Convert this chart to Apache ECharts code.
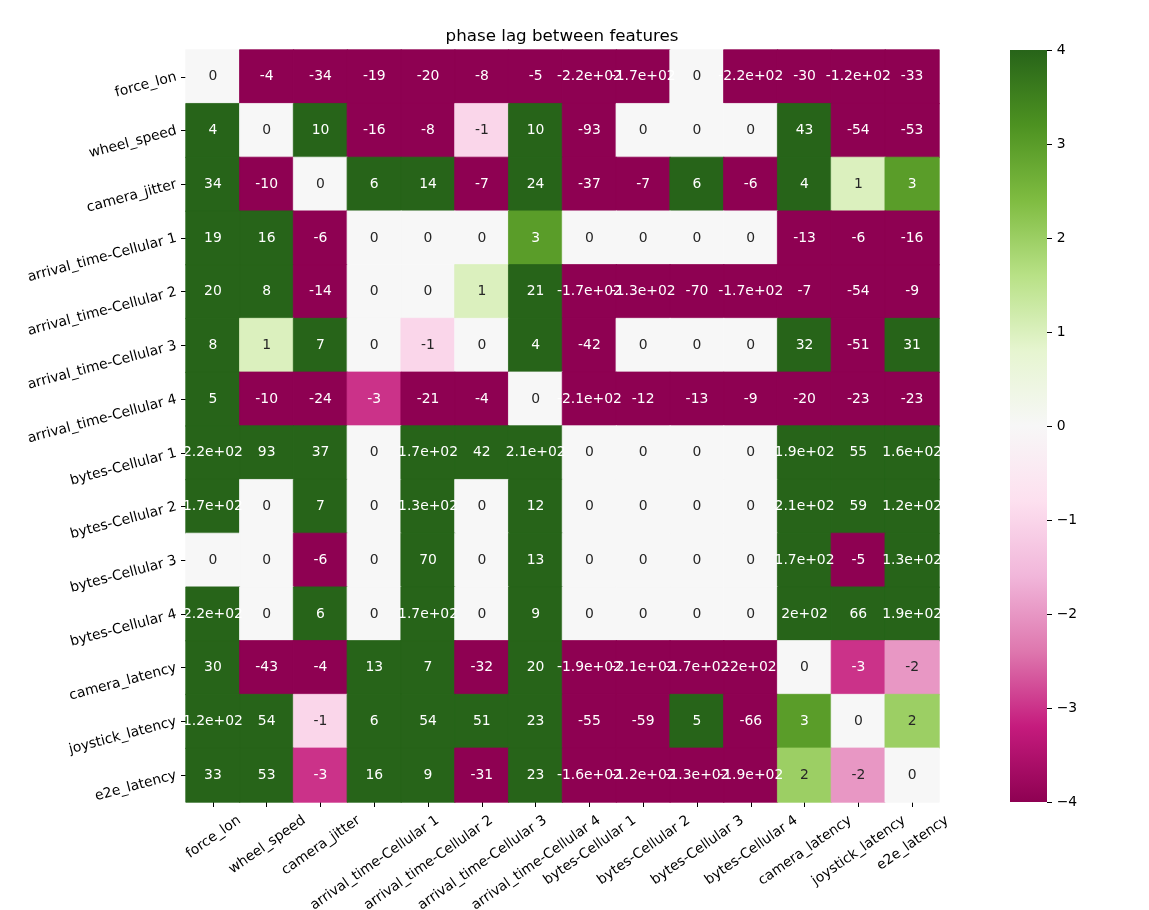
<!DOCTYPE html>
<html><head><meta charset="utf-8">
<script src="https://cdn.jsdelivr.net/npm/echarts@6/dist/echarts.min.js"></script>
<style>html,body{margin:0;padding:0;background:#fff}#c{width:1149px;height:910px}</style>
</head><body><div id="c"></div><script>
const features = ['force_lon','wheel_speed','camera_jitter','arrival_time-Cellular 1','arrival_time-Cellular 2','arrival_time-Cellular 3','arrival_time-Cellular 4','bytes-Cellular 1','bytes-Cellular 2','bytes-Cellular 3','bytes-Cellular 4','camera_latency','joystick_latency','e2e_latency'];

const row_force_lon      = [0, -4, -34, -19, -20, -8, -5, -220, -170, 0, -220, -30, -120, -33];
const row_wheel_speed    = [4, 0, 10, -16, -8, -1, 10, -93, 0, 0, 0, 43, -54, -53];
const row_camera_jitter  = [34, -10, 0, 6, 14, -7, 24, -37, -7, 6, -6, 4, 1, 3];
const row_arrival_c1     = [19, 16, -6, 0, 0, 0, 3, 0, 0, 0, 0, -13, -6, -16];
const row_arrival_c2     = [20, 8, -14, 0, 0, 1, 21, -170, -130, -70, -170, -7, -54, -9];
const row_arrival_c3     = [8, 1, 7, 0, -1, 0, 4, -42, 0, 0, 0, 32, -51, 31];
const row_arrival_c4     = [5, -10, -24, -3, -21, -4, 0, -210, -12, -13, -9, -20, -23, -23];
const row_bytes_c1       = [220, 93, 37, 0, 170, 42, 210, 0, 0, 0, 0, 190, 55, 160];
const row_bytes_c2       = [170, 0, 7, 0, 130, 0, 12, 0, 0, 0, 0, 210, 59, 120];
const row_bytes_c3       = [0, 0, -6, 0, 70, 0, 13, 0, 0, 0, 0, 170, -5, 130];
const row_bytes_c4       = [220, 0, 6, 0, 170, 0, 9, 0, 0, 0, 0, 200, 66, 190];
const row_camera_latency = [30, -43, -4, 13, 7, -32, 20, -190, -210, -170, -200, 0, -3, -2];
const row_joystick_lat   = [120, 54, -1, 6, 54, 51, 23, -55, -59, 5, -66, 3, 0, 2];
const row_e2e_latency    = [33, 53, -3, 16, 9, -31, 23, -160, -120, -130, -190, 2, -2, 0];

const colorbarTicks = [-4, -3, -2, -1, 0, 1, 2, 3, 4];

const rows = [row_force_lon,row_wheel_speed,row_camera_jitter,row_arrival_c1,row_arrival_c2,row_arrival_c3,row_arrival_c4,row_bytes_c1,row_bytes_c2,row_bytes_c3,row_bytes_c4,row_camera_latency,row_joystick_lat,row_e2e_latency];

const PiYG = ['#8e0152','#c51b7d','#de77ae','#f1b6da','#fde0ef','#f7f7f7','#e6f5d0','#b8e186','#7fbc41','#4d9221','#276419'];
const VMIN = -4, VMAX = 4;
const FONT = 'DejaVu Sans';
const FS = 13.9;

function fmt2g(v){
  if (v === 0) return '0';
  const a = Math.abs(v);
  let e = Math.floor(Math.log10(a));
  if (e < -4 || e >= 2) {
    let ms = (v / Math.pow(10, e)).toFixed(1);
    if (Math.abs(parseFloat(ms)) >= 10) { e += 1; ms = (v / Math.pow(10, e)).toFixed(1); }
    ms = ms.replace(/\.0$/, '');
    return ms + 'e' + (e < 0 ? '-' : '+') + String(Math.abs(e)).padStart(2, '0');
  }
  return String(Number(v.toPrecision(2)));
}
function cmap(v){
  const t = Math.min(1, Math.max(0, (v - VMIN) / (VMAX - VMIN)));
  return echarts.color.lerp(t, PiYG);
}

const data = [];
rows.forEach((r, i) => r.forEach((v, j) => {
  data.push({ value: [j, i, v],
    itemStyle: { borderColor: cmap(v), borderWidth: 0.8 },
    label: { color: Math.abs(v) <= 2 ? '#262626' : '#ffffff' } });
}));

// x label placement emulating centred rotated bounding boxes
const theta = 35 * Math.PI / 180;
const LH = 16;
const ctx = document.createElement('canvas').getContext('2d');
ctx.font = FS + 'px "' + FONT + '"';
const xrich = { a: { fontSize: FS, fontFamily: FONT, color: '#000', lineHeight: LH, verticalAlign: 'bottom' } };
features.forEach((f, i) => {
  const w = ctx.measureText(f).width;
  const k = w * Math.sin(theta) + LH * Math.cos(theta);
  const R = Math.sin(theta) * k;
  const Tp = Math.cos(theta) * k;
  xrich['p' + i] = { width: R, height: LH + Tp, lineHeight: LH + Tp, fontSize: FS, fontFamily: FONT };
});

const barGradient = new echarts.graphic.LinearGradient(0, 0, 0, 1,
  PiYG.slice().reverse().map((c, i) => ({ offset: i / (PiYG.length - 1), color: c })));

const chart = echarts.init(document.getElementById('c'));
chart.setOption({
  animation: false,
  backgroundColor: '#fff',
  title: {
    text: 'phase lag between features',
    left: 562, top: 28, textAlign: 'center', padding: 0,
    textStyle: { fontSize: 16.7, fontWeight: 'normal', color: '#000', fontFamily: FONT }
  },
  grid: [
    { left: 186, top: 50, width: 753, height: 752, containLabel: false, outerBoundsMode: 'none' },
    { left: 1010, top: 50, width: 37, height: 752, containLabel: false, outerBoundsMode: 'none',
      show: true, borderWidth: 0, backgroundColor: barGradient }
  ],
  xAxis: [
    { type: 'category', data: features, gridIndex: 0,
      axisLine: { show: false },
      axisTick: { show: true, alignWithLabel: true, length: 5, lineStyle: { color: '#000', width: 1 } },
      axisLabel: { interval: 0, rotate: 35, align: 'center', verticalAlign: 'middle', margin: 9.7,
        fontSize: FS, fontFamily: FONT, color: '#000',
        formatter: (v, idx) => '{a|' + v + '}{p' + idx + '| }', rich: xrich },
      splitLine: { show: false } },
    { type: 'value', gridIndex: 1, show: false, min: 0, max: 1 }
  ],
  yAxis: [
    { type: 'category', data: features, inverse: true, gridIndex: 0,
      axisLine: { show: false },
      axisTick: { show: true, alignWithLabel: true, length: 5, lineStyle: { color: '#000', width: 1 } },
      axisLabel: { interval: 0, rotate: 15, margin: 9.7, fontSize: FS, fontFamily: FONT, color: '#000' },
      splitLine: { show: false } },
    { type: 'value', gridIndex: 1, position: 'right', min: colorbarTicks[0], max: colorbarTicks[colorbarTicks.length - 1], interval: 1,
      axisLine: { show: false, onZero: false },
      axisTick: { show: true, length: 5, lineStyle: { color: '#000', width: 1 } },
      axisLabel: { margin: 9.7, fontSize: FS, fontFamily: FONT, color: '#000',
        formatter: v => String(v).replace('-', '\u2212') },
      splitLine: { show: false } }
  ],
  visualMap: {
    type: 'continuous', min: VMIN, max: VMAX, dimension: 2, seriesIndex: 0,
    calculable: false, show: false,
    inRange: { color: PiYG }
  },
  series: [{
    type: 'heatmap', xAxisIndex: 0, yAxisIndex: 0, data: data,
    emphasis: { disabled: true },
    label: { show: true, fontSize: FS, fontFamily: FONT, formatter: p => fmt2g(p.value[2]) }
  }]
});
</script></body></html>
